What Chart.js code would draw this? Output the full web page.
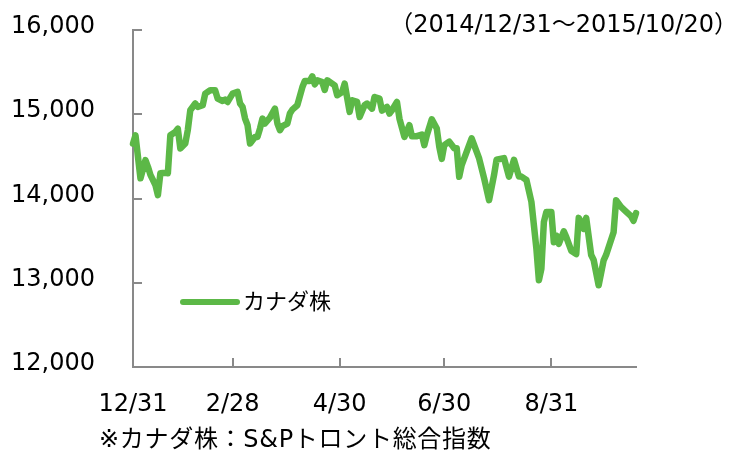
<!DOCTYPE html>
<html>
<head>
<meta charset="utf-8">
<script src="https://cdn.jsdelivr.net/npm/chart.js@4.4.1/dist/chart.umd.min.js"></script>
<style>
html,body{margin:0;padding:0;background:#fff;}
#wrap{position:relative;width:732px;height:450px;overflow:hidden;}
canvas{position:absolute;left:0;top:0;}
.t{position:absolute;font-family:"DejaVu Sans","Noto Sans CJK JP",sans-serif;color:#000;white-space:nowrap;line-height:26px;}
#period{right:-6px;top:11px;font-size:24px;}
#note{left:99px;top:426px;font-size:24px;letter-spacing:0.7px;}
#legend{left:180px;top:289px;font-size:22px;}
#legend .sw{display:inline-block;width:60px;height:6px;border-radius:3px;vertical-align:middle;margin-right:3px;position:relative;top:-1px;}
</style>
</head>
<body>
<div id="wrap">
<canvas id="c" width="732" height="450"></canvas>
<div class="t" id="period">（2014/12/31～2015/10/20）</div>
<div class="t" id="legend"><span class="sw" id="sw"></span><span id="lgtext"></span></div>
<div class="t" id="note">※カナダ株：S&amp;Pトロント総合指数</div>
</div>
<script>
// Series label and colour
const seriesName = 'カナダ株';
const seriesColor = '#5cb847';

// Trading-day index (0 = 2014/12/31) and index level
const days = [0,1,3,5,6,7,9,10,11,13,14,15,17,18,19,21,22,23,25,26,28,29,31,33,34,36,37,38,40,42,43,44,45,46,47,49,50,51,52,53,55,57,58,59,60,62,63,64,66,68,69,71,72,73,74,76,77,78,80,81,82,84,85,87,88,90,91,93,94,96,97,99,100,102,103,104,106,107,109,111,112,114,116,117,118,120,122,123,124,125,127,129,130,131,132,136,139,141,143,145,146,149,151,153,155,156,158,160,162,163,164,165,166,168,169,170,171,173,174,176,178,179,180,181,182,184,185,187,189,190,193,194,196,198,200,201,202];
const values = [14650,14750,14240,14455,14376,14280,14160,14040,14300,14305,14300,14750,14790,14830,14594,14653,14810,15047,15127,15087,15107,15245,15284,15284,15186,15158,15174,15146,15245,15265,15127,15087,14949,14870,14653,14731,14731,14830,14949,14890,14960,15067,14890,14811,14858,14890,15008,15055,15107,15320,15394,15394,15450,15355,15403,15382,15288,15403,15363,15343,15225,15264,15363,15028,15166,15146,14968,15107,15127,15067,15205,15186,15043,15087,15008,15047,15146,14949,14731,14870,14740,14740,14760,14633,14751,14940,14830,14613,14470,14633,14675,14596,14596,14257,14396,14714,14475,14240,13980,14280,14460,14480,14260,14460,14260,14260,14220,13960,13405,13030,13165,13720,13840,13840,13480,13560,13462,13610,13542,13380,13340,13770,13720,13640,13770,13330,13270,12970,13266,13330,13600,13980,13900,13845,13790,13735,13826];

// Axis ticks
const xTickDays = [0,40,83,125,168];
const xTickLabels = ['12/31','2/28','4/30','6/30','8/31'];
const xMax = 202;
const yTicks = [12000,13000,14000,15000,16000];

document.getElementById('lgtext').textContent = seriesName;
document.getElementById('sw').style.background = seriesColor;

const axisColor = '#898989';
const innerTicks = {
  id:'innerTicks',
  beforeDatasetsDraw(chart){
    const ctx = chart.ctx, a = chart.chartArea, xs = chart.scales.x, ys = chart.scales.y;
    ctx.save();
    ctx.strokeStyle = axisColor; ctx.lineWidth = 2;
    ctx.beginPath();
    yTicks.forEach(v=>{ if(v===yTicks[0]) return; const p = Math.round(ys.getPixelForValue(v)); ctx.moveTo(a.left, p); ctx.lineTo(a.left+9, p); });
    xTickDays.forEach(d=>{ if(d===0) return; const p = Math.round(xs.getPixelForValue(d)); ctx.moveTo(p, a.bottom); ctx.lineTo(p, a.bottom-9); });
    ctx.stroke();
    ctx.restore();
  }
};

new Chart(document.getElementById('c'), {
  type:'line',
  data:{
    datasets:[{
      label: seriesName,
      data: days.map((d,i)=>({x:d, y:values[i]})),
      borderColor: seriesColor,
      borderWidth: 6.5,
      pointRadius: 0,
      tension: 0,
      borderJoinStyle:'round',
      borderCapStyle:'round',
      clip: false
    }]
  },
  options:{
    responsive:false,
    animation:false,
    devicePixelRatio:1,
    layout:{padding:{top:30,right:96,left:0,bottom:0}},
    plugins:{legend:{display:false},tooltip:{enabled:false},title:{display:false}},
    scales:{
      x:{
        type:'linear', min:0, max:xMax,
        afterBuildTicks(s){ s.ticks = xTickDays.map(v=>({value:v})); },
        afterFit(s){ s.height = 83; s.paddingLeft = 0; s.paddingRight = 0; },
        ticks:{autoSkip:false, maxRotation:0, padding:23, color:'#000',
          font:{family:'DejaVu Sans', size:24},
          callback:(v,i)=>xTickLabels[i]},
        grid:{drawOnChartArea:false, drawTicks:false},
        border:{color:axisColor, width:2}
      },
      y:{
        min:12000, max:16000,
        afterBuildTicks(s){ s.ticks = yTicks.map(v=>({value:v})); },
        afterFit(s){ s.width = 133; s.paddingTop = 0; s.paddingBottom = 0; },
        ticks:{padding:38, labelOffset:-3, color:'#000', font:{family:'DejaVu Sans', size:24},
          callback:v=>v.toLocaleString('en-US')},
        grid:{drawOnChartArea:false, drawTicks:false},
        border:{color:axisColor, width:2}
      }
    }
  },
  plugins:[innerTicks]
});
</script>
</body>
</html>
